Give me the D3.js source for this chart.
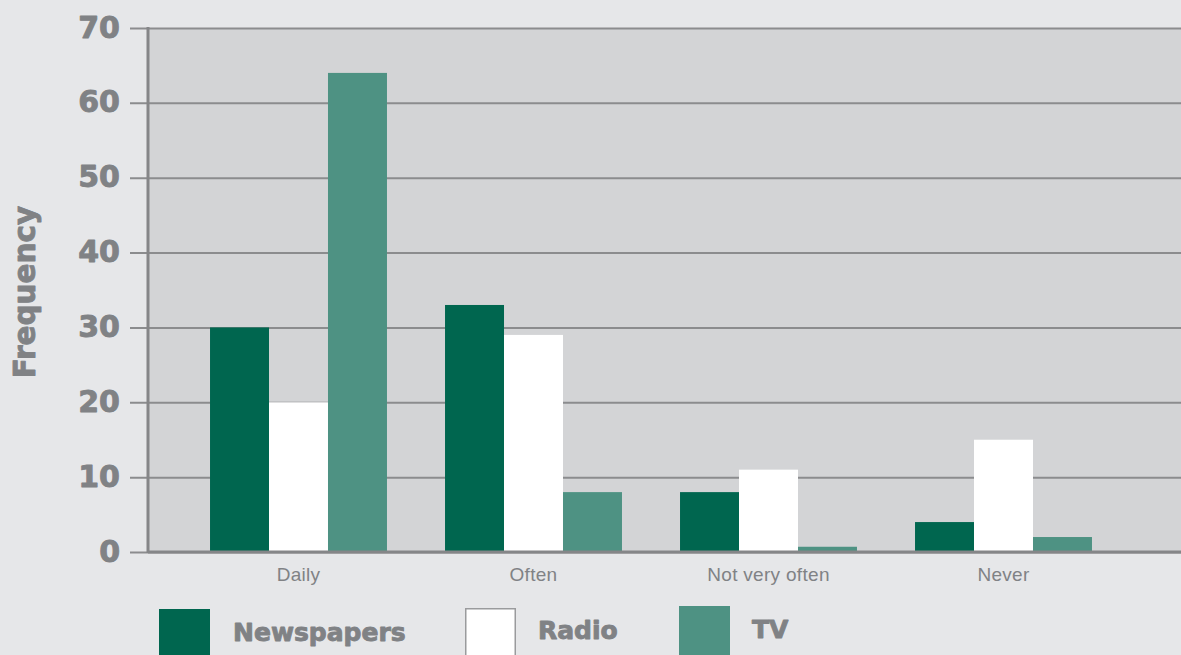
<!DOCTYPE html>
<html>
<head>
<meta charset="utf-8">
<script src="https://cdn.jsdelivr.net/npm/d3@7"></script>
<style>
  html, body { margin: 0; padding: 0; background: #e6e7e9; overflow: hidden; }
  svg { display: block; }
</style>
</head>
<body>
<svg id="chart" width="1181" height="655"></svg>
<script>
// Media use frequency by medium
const categories = ["Daily", "Often", "Not very often", "Never"];
const seriesNames = ["Newspapers", "Radio", "TV"];
const newspapers = [30, 33, 8, 4];
const radio = [20, 29, 11, 15];
const tv = [64, 8, 0.7, 2];
const yTicks = [0, 10, 20, 30, 40, 50, 60, 70];

const seriesValues = [newspapers, radio, tv];
const colors = ["#00664f", "#ffffff", "#4e9283"];
const textGrey = "#808285";
const lineGrey = "#8b8c8e";

const W = 1181, H = 655;
const plot = { left: 148, right: 1181, top: 28, bottom: 552 };

const svg = d3.select("#chart");

svg.append("rect").attr("width", W).attr("height", H).attr("fill", "#e6e7e9");

const y = d3.scaleLinear().domain([0, 70]).range([plot.bottom, plot.top]);
const x0 = d3.scaleBand().domain(categories).range([181, 1121])
  .paddingInner(0.247).paddingOuter(0.1235);
const x1 = d3.scaleBand().domain(seriesNames).range([0, x0.bandwidth()]);

// heavy label style shared by ticks, title and legend
function heavy(sel, size) {
  sel.attr("fill", textGrey)
    .attr("stroke", textGrey)
    .attr("stroke-width", 0.9)
    .attr("stroke-linejoin", "round")
    .attr("font-family", "'DejaVu Sans', sans-serif")
    .attr("font-weight", "bold")
    .attr("font-size", size);
}

// plot background
svg.append("rect")
  .attr("x", plot.left).attr("y", plot.top)
  .attr("width", plot.right - plot.left).attr("height", plot.bottom - plot.top)
  .attr("fill", "#d3d4d6");

// gridlines running from the tick stubs across the plot
const gy = svg.append("g").attr("transform", `translate(${plot.right},0)`);
gy.call(d3.axisLeft(y).tickValues(yTicks).tickSize(plot.right - 130).tickFormat(""));
gy.select(".domain").remove();
gy.selectAll(".tick line").attr("stroke", lineGrey).attr("stroke-width", 2);

// y tick labels
const gyl = svg.append("g").attr("transform", `translate(130,0)`);
gyl.call(d3.axisLeft(y).tickValues(yTicks).tickSize(0).tickPadding(10));
gyl.select(".domain").remove();
gyl.selectAll(".tick text")
  .call(heavy, 30)
  .attr("dy", "0.30em");

// bars
const groups = svg.append("g").selectAll("g")
  .data(categories)
  .join("g")
  .attr("transform", d => `translate(${x0(d)},0)`);

groups.selectAll("rect")
  .data((c, i) => seriesNames.map((s, k) => ({ s, k, v: seriesValues[k][i] })))
  .join("rect")
  .attr("x", d => x1(d.s))
  .attr("width", x1.bandwidth())
  .attr("y", d => y(d.v))
  .attr("height", d => y(0) - y(d.v))
  .attr("fill", d => colors[d.k]);

// axis lines
svg.append("line")
  .attr("x1", plot.left).attr("x2", plot.left)
  .attr("y1", plot.top - 1).attr("y2", plot.bottom + 1)
  .attr("stroke", "#858688").attr("stroke-width", 3);
svg.append("line")
  .attr("x1", plot.left).attr("x2", plot.right)
  .attr("y1", plot.bottom).attr("y2", plot.bottom)
  .attr("stroke", "#858688").attr("stroke-width", 3);

// category labels
const gx = svg.append("g").attr("transform", `translate(0,${plot.bottom})`);
gx.call(d3.axisBottom(x0).tickSize(0).tickPadding(0));
gx.select(".domain").remove();
gx.selectAll(".tick text")
  .attr("fill", textGrey)
  .attr("font-family", "'Liberation Sans', Arial, sans-serif")
  .attr("font-size", 19)
  .attr("letter-spacing", 0.3)
  .attr("dy", null)
  .attr("y", 29);

// y axis title
svg.append("text")
  .attr("transform", "translate(35,292) rotate(-90)")
  .attr("text-anchor", "middle")
  .call(heavy, 29.5)
  .text("Frequency");

// legend
const legendPos = [
  { sx: 159, sy: 609, tx: 233, ty: 641 },
  { sx: 465, sy: 608, tx: 538, ty: 639 },
  { sx: 679, sy: 606, tx: 752, ty: 638 }
];
const legend = svg.append("g").selectAll("g")
  .data(seriesNames)
  .join("g");
legend.append("rect")
  .attr("x", (d, i) => legendPos[i].sx + (i === 1 ? 0.75 : 0))
  .attr("y", (d, i) => legendPos[i].sy + (i === 1 ? 0.75 : 0))
  .attr("width", (d, i) => i === 1 ? 49.5 : 51)
  .attr("height", 55)
  .attr("fill", (d, i) => colors[i])
  .attr("stroke", (d, i) => i === 1 ? "#9a9b9d" : "none")
  .attr("stroke-width", 1.5);
legend.append("text")
  .attr("x", (d, i) => legendPos[i].tx)
  .attr("y", (d, i) => legendPos[i].ty)
  .call(heavy, 25)
  .text(d => d);
</script>
</body>
</html>
